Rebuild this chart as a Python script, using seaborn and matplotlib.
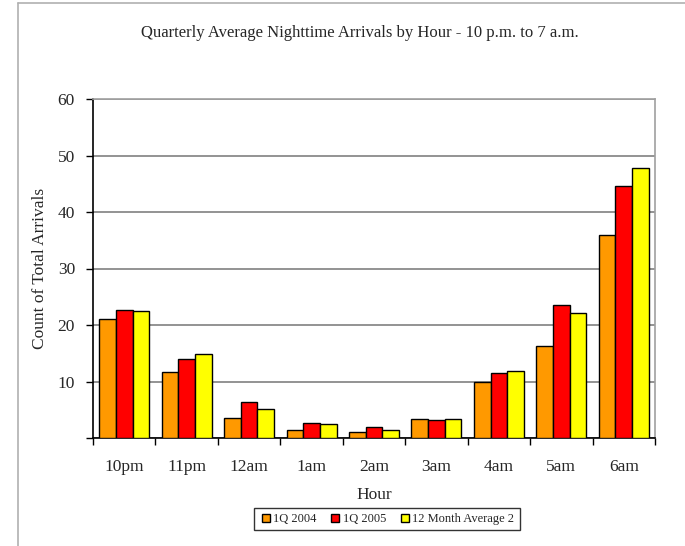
import pandas as pd
import matplotlib
matplotlib.use('Agg')
import matplotlib.pyplot as plt
import seaborn as sns
from matplotlib.lines import Line2D

hours = ['10pm', '11pm', '12am', '1am', '2am', '3am', '4am', '5am', '6am']
q1_2004 = [21.1, 11.6, 3.5, 1.4, 1.1, 3.4, 10.0, 16.3, 36.0]
q1_2005 = [22.7, 13.9, 6.4, 2.6, 1.9, 3.2, 11.5, 23.5, 44.6]
avg_12m = [22.4, 14.9, 5.1, 2.4, 1.5, 3.4, 11.8, 22.1, 47.7]
series = ['1Q 2004', '1Q 2005', '12 Month Average 2']
colors = ['#FF9900', '#FF0000', '#FFFF00']

df = pd.DataFrame({
    'Hour': hours * 3,
    'Count': q1_2004 + q1_2005 + avg_12m,
    'Series': [s for s in series for _ in hours],
})

sns.set_theme(style='white')
plt.rcParams['font.family'] = ['Liberation Serif', 'DejaVu Serif']

fig = plt.figure(figsize=(6.85, 5.46), dpi=100)
ax = fig.add_axes([93 / 685, 1 - 438 / 546, 562 / 685, 339 / 546])

sns.barplot(data=df, x='Hour', y='Count', hue='Series', order=hours,
            hue_order=series, palette=colors, width=0.8, edgecolor='black',
            linewidth=1.0, saturation=1, legend=False, ax=ax, zorder=3)

ax.set_ylim(0, 60)
ax.set_xlim(-0.5, len(hours) - 0.5)
ax.set_yticks(range(0, 61, 10))
ax.set_yticklabels(['', '10', '20', '30', '40', '50', '60'])
ax.yaxis.grid(True, color='#808080', linewidth=1.2, zorder=0)
ax.set_axisbelow(True)

# category ticks sit between groups
ax.set_xticks([i - 0.5 for i in range(len(hours) + 1)], minor=True)
ax.tick_params(axis='x', which='minor', direction='out', length=5, width=1, color='black', bottom=True)
ax.tick_params(axis='x', which='major', length=0, labelsize=12.5, pad=15)
ax.tick_params(axis='y', direction='out', length=5, width=1, color='black', left=True, labelsize=12.5, pad=8)

for side in ['left', 'bottom']:
    ax.spines[side].set_color('black')
    ax.spines[side].set_linewidth(1.2)
for side in ['top', 'right']:
    ax.spines[side].set_color('#A0A0A0')
    ax.spines[side].set_linewidth(1.2)

ax.set_xlabel('Hour', fontsize=12.5, labelpad=9)
ax.set_ylabel('Count of Total Arrivals', fontsize=12.5, labelpad=7)
fig.text(360 / 685, 1 - 33 / 546, 'Quarterly Average Nighttime Arrivals by Hour - 10 p.m. to 7 a.m.',
         ha='center', va='center', fontsize=12)

handles = [Line2D([], [], marker='s', linestyle='', markerfacecolor=c,
                  markeredgecolor='black', markersize=6) for c in colors]
fig.legend(handles, series, loc='center', bbox_to_anchor=(387 / 685, 1 - 519 / 546),
           ncol=3, fontsize=9, frameon=True, fancybox=False, edgecolor='black',
           handletextpad=0.1, columnspacing=1.0, borderpad=0.4, handlelength=1.0)

# outer chart border (top and left only)
fig.add_artist(Line2D([18 / 685, 18 / 685], [0, 1 - 3 / 546], color='#B0B0B0', linewidth=1.2))
fig.add_artist(Line2D([18 / 685, 1], [1 - 3 / 546, 1 - 3 / 546], color='#B0B0B0', linewidth=1.2))

fig.savefig('out.png', dpi=100)
